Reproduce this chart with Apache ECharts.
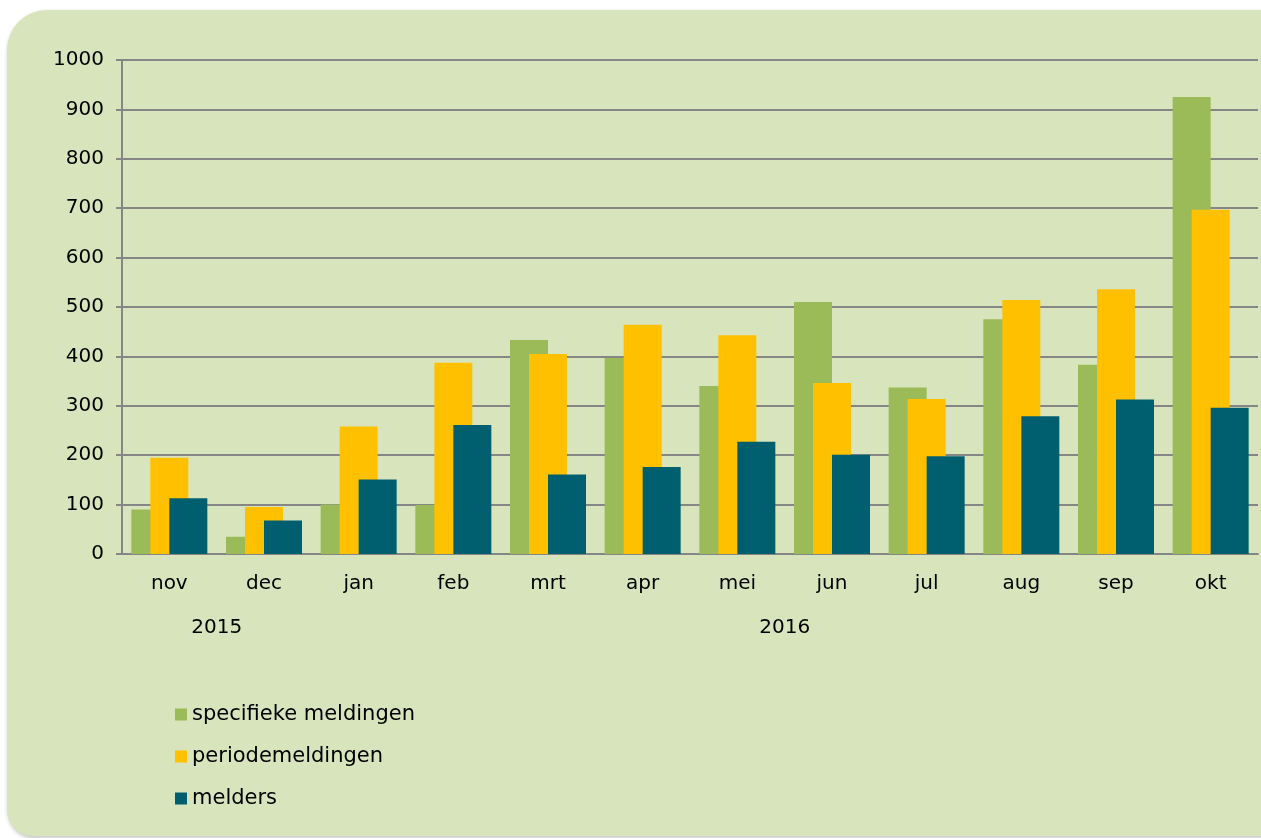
<!DOCTYPE html>
<html>
<head>
<meta charset="utf-8">
<script src="https://cdn.jsdelivr.net/npm/echarts@6/dist/echarts.min.js"></script>
<style>
  html, body { margin: 0; padding: 0; background: #fff; }
  #chart { width: 1261px; height: 838px; }
</style>
</head>
<body>
<div id="chart"></div>
<script>
const months = ['nov', 'dec', 'jan', 'feb', 'mrt', 'apr', 'mei', 'jun', 'jul', 'aug', 'sep', 'okt']
// year labels sit at the middle of their month span (in category units)
const years = { 1: '2015', 7: '2016' }

const specifiek = [90, 35, 100, 99, 433, 397, 340, 510, 337, 475, 383, 925]
const periode = [195, 95, 258, 387, 405, 464, 443, 346, 314, 514, 536, 697]
const melders = [113, 68, 151, 261, 161, 176, 227, 201, 198, 279, 313, 296]

const FONT = 'DejaVu Sans'
const GRID = '#868686'

const chart = echarts.init(document.getElementById('chart'))

chart.setOption({
  animation: false,
  textStyle: { fontFamily: FONT },
  graphic: [{
    type: 'rect',
    z: -10,
    shape: { x: 7, y: 10, width: 1300, height: 826, r: [40, 0, 0, 26] },
    style: { fill: '#d8e4bc', shadowBlur: 4, shadowColor: 'rgba(0,0,0,0.25)', shadowOffsetX: 1, shadowOffsetY: 2 },
  }],
  grid: { left: 122, top: 60, right: 2, bottom: 284 },
  legend: {
    orient: 'vertical',
    left: 170,
    top: 699,
    itemWidth: 12,
    itemHeight: 12,
    itemGap: 21,
    icon: 'rect',
    textStyle: { fontSize: 21, color: '#000', fontFamily: FONT },
    data: ['specifieke meldingen', 'periodemeldingen', 'melders'],
  },
  xAxis: [
    {
      type: 'category',
      data: months,
      axisLine: { lineStyle: { color: GRID, width: 2 } },
      axisTick: { show: false },
      axisLabel: { color: '#000', fontSize: 20, margin: 20, fontFamily: FONT },
    },
    {
      type: 'value',
      position: 'bottom',
      offset: 44,
      min: 0,
      max: 12,
      interval: 1,
      axisLine: { show: false },
      axisTick: { show: false },
      splitLine: { show: false },
      axisLabel: {
        color: '#000', fontSize: 20, margin: 20, fontFamily: FONT,
        showMinLabel: true, showMaxLabel: true,
        formatter: (v) => years[v] || '',
      },
    },
  ],
  yAxis: {
    type: 'value',
    min: 0,
    max: 1000,
    interval: 100,
    axisLine: { show: true, lineStyle: { color: GRID, width: 2 } },
    axisTick: { show: true, length: 6, lineStyle: { color: GRID, width: 2 } },
    splitLine: { lineStyle: { color: GRID, width: 2 } },
    axisLabel: { color: '#000', fontSize: 20, margin: 18, fontFamily: FONT, formatter: (v) => String(v) },
  },
  series: [
    {
      name: 'specifieke meldingen',
      type: 'bar',
      data: specifiek,
      barWidth: 38,
      barGap: '-50%',
      itemStyle: { color: '#9bbb59' },
    },
    {
      name: 'periodemeldingen',
      type: 'bar',
      data: periode,
      barWidth: 38,
      barGap: '-50%',
      itemStyle: { color: '#ffc000' },
    },
    {
      name: 'melders',
      type: 'bar',
      data: melders,
      barWidth: 38,
      barGap: '-50%',
      itemStyle: { color: '#005f6e' },
    },
  ],
})
</script>
</body>
</html>
